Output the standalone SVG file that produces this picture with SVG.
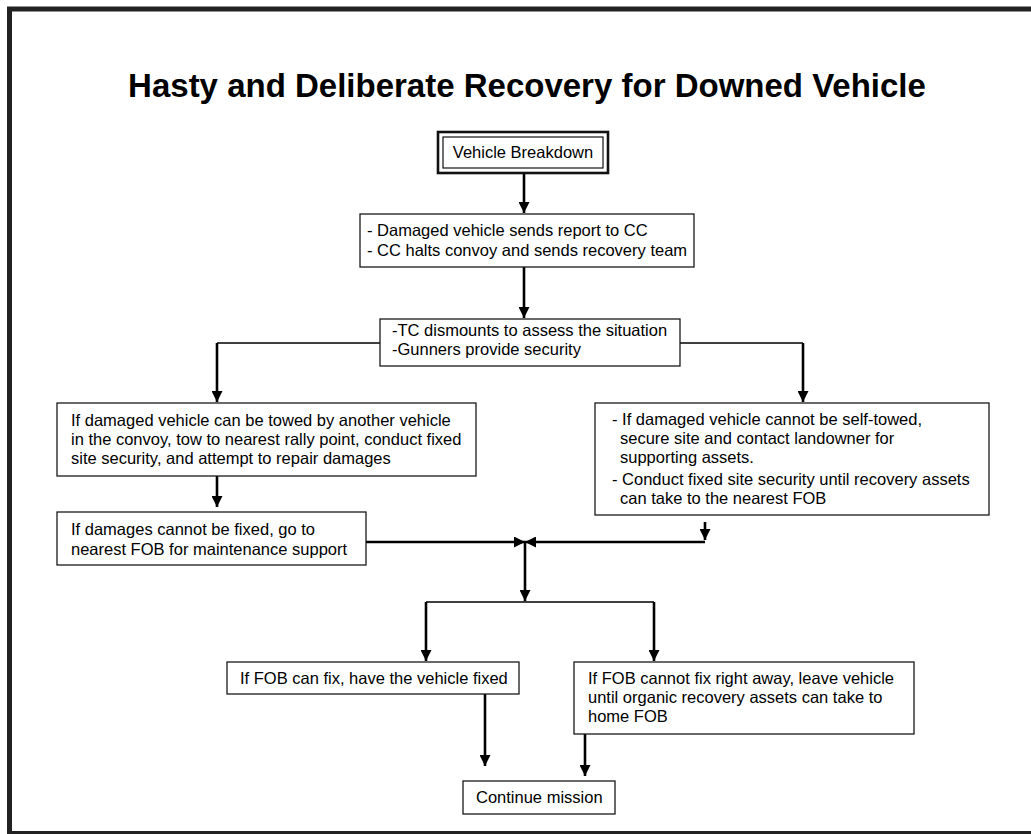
<svg xmlns="http://www.w3.org/2000/svg" width="1031" height="834" viewBox="0 0 1031 834">
<style>
.frame{fill:none;stroke:#222;stroke-width:5}
.box{fill:#fff;stroke:#1a1a1a;stroke-width:1.3}
.t{font-family:"Liberation Sans",Arial,sans-serif;font-size:16.5px;fill:#000}
.title{font-family:"Liberation Sans",Arial,sans-serif;font-size:33px;font-weight:bold;fill:#000}
.thin{fill:none;stroke:#000;stroke-width:1.4}
.thick{fill:none;stroke:#000;stroke-width:2.6}
.arr{marker-end:url(#ah)}
</style>
<defs>
<marker id="ah" markerUnits="userSpaceOnUse" markerWidth="11" markerHeight="11" viewBox="0 0 10 10" refX="10" refY="5" orient="auto">
<path d="M0,0 L10,5 L0,10 z" fill="#000"/>
</marker>
</defs>
<rect width="1031" height="834" fill="#fff"/>
<rect class="frame" x="9.5" y="9" width="1040" height="824.5"/>
<text class="title" x="527" y="97" text-anchor="middle">Hasty and Deliberate Recovery for Downed Vehicle</text>

<g id="connectors">
<path class="thick arr" d="M524,173 V213"/>
<path class="thick arr" d="M524,267 V318"/>
<path class="thin" d="M380,343 H217"/>
<path class="thick arr" d="M217,343 V402"/>
<path class="thin" d="M680,343 H803"/>
<path class="thick arr" d="M803,343 V402"/>
<path class="thick arr" d="M217,476 V507"/>
<path class="thick arr" d="M366,542 H525"/>
<path class="thick arr" d="M705,522 V540"/>
<path class="thick arr" d="M705,542 H525"/>
<path class="thick arr" d="M525,542 V601"/>
<path class="thin" d="M426,602 H654"/>
<path class="thick arr" d="M426,602 V661"/>
<path class="thick arr" d="M654,602 V661"/>
<path class="thick arr" d="M485,694 V766"/>
<path class="thick arr" d="M585,734 V776"/>
</g>

<g id="n-breakdown">
<rect x="438" y="132" width="170" height="41" fill="#fff" stroke="#111" stroke-width="2.6"/>
<rect x="443" y="137" width="160" height="31" fill="none" stroke="#111" stroke-width="1.2"/>
<text class="t" x="523" y="158" text-anchor="middle">Vehicle Breakdown</text>
</g>

<g id="n-report">
<rect class="box" x="360" y="214" width="334" height="53"/>
<text class="t" x="367" y="236">- Damaged vehicle sends report to CC</text>
<text class="t" x="367" y="256">- CC halts convoy and sends recovery team</text>
</g>

<g id="n-dismount">
<rect class="box" x="380" y="319" width="300" height="47"/>
<text class="t" x="392" y="336">-TC dismounts to assess the situation</text>
<text class="t" x="392" y="355">-Gunners provide security</text>
</g>

<g id="n-tow">
<rect class="box" x="57" y="403" width="419" height="73"/>
<text class="t" x="71" y="426">If damaged vehicle can be towed by another vehicle</text>
<text class="t" x="71" y="445">in the convoy, tow to nearest rally point, conduct fixed</text>
<text class="t" x="71" y="464">site security, and attempt to repair damages</text>
</g>

<g id="n-selftow">
<rect class="box" x="595" y="403" width="394" height="112"/>
<text class="t" x="612" y="425">- If damaged vehicle cannot be self-towed,</text>
<text class="t" x="620" y="444">secure site and contact landowner for</text>
<text class="t" x="620" y="463">supporting assets.</text>
<text class="t" x="612" y="485">- Conduct fixed site security until recovery assets</text>
<text class="t" x="620" y="504">can take to the nearest FOB</text>
</g>

<g id="n-notfixed">
<rect class="box" x="57" y="512" width="309" height="53"/>
<text class="t" x="71" y="535">If damages cannot be fixed, go to</text>
<text class="t" x="71" y="555">nearest FOB for maintenance support</text>
</g>

<g id="n-fobfix">
<rect class="box" x="227" y="662" width="292" height="32"/>
<text class="t" x="240" y="684">If FOB can fix, have the vehicle fixed</text>
</g>

<g id="n-fobnofix">
<rect class="box" x="574" y="662" width="340" height="72"/>
<text class="t" x="588" y="684">If FOB cannot fix right away, leave vehicle</text>
<text class="t" x="588" y="703">until organic recovery assets can take to</text>
<text class="t" x="588" y="722">home FOB</text>
</g>

<g id="n-continue">
<rect class="box" x="463" y="781" width="152" height="33"/>
<text class="t" x="476" y="803">Continue mission</text>
</g>
</svg>
